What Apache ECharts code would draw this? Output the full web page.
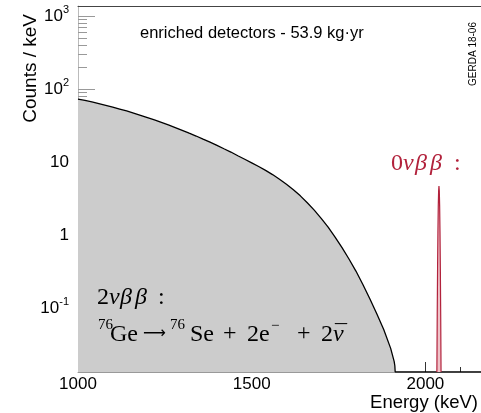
<!DOCTYPE html>
<html>
<head>
<meta charset="utf-8">
<script src="https://cdn.jsdelivr.net/npm/echarts@6/dist/echarts.min.js"></script>
<style>
html,body{margin:0;padding:0;background:#fff;}
#chart{width:481px;height:413px;}
</style>
</head>
<body>
<div id="chart"></div>
<script>
// ---- data ----
const energy2nu = [1000,1020,1040,1060,1080,1100,1120,1140,1160,1180,1200,1220,1240,1260,1280,1300,1320,1340,1360,1380,1400,1420,1440,1460,1480,1500,1520,1540,1560,1580,1600,1620,1640,1660,1680,1700,1720,1740,1760,1780,1800,1820,1840,1860,1880,1900,1910,1912];
const counts2nu = [72.9,69.7,66.5,63.1,59.8,56.5,53.2,50.0,46.8,43.7,40.6,37.7,34.9,32.2,29.6,27.2,24.8,22.7,20.6,18.7,16.9,15.2,13.7,12.2,10.9,9.73,8.67,7.67,6.73,5.82,4.97,4.17,3.44,2.77,2.19,1.69,1.28,0.938,0.671,0.470,0.321,0.210,0.134,0.0836,0.0509,0.0280,0.0186,0.0162];
const energy0nu = [2033,2034,2035,2036,2037,2038,2039,2040,2041,2042,2043,2044,2045];
const counts0nu = [0.0133,0.0794,0.345,1.08,2.45,3.99,4.7,3.99,2.45,1.08,0.345,0.0794,0.0133];
const xTicks = [1000,1500,2000];
const yMajor = [0.1,1,10,100,1000];
const yMinor = [0.02,0.03,0.04,0.05,0.06,0.07,0.08,0.09,0.2,0.3,0.4,0.5,0.6,0.7,0.8,0.9,2,3,4,5,6,7,8,9,20,30,40,50,60,70,80,90,200,300,400,500,600,700,800,900];
const X_MIN = 1000, X_MAX = 2160, Y_MIN = 0.0133, Y_MAX = 1371;

const tail = [[1913, Y_MIN],[X_MAX, Y_MIN]];
const data2nu = energy2nu.map((e,i)=>[e, counts2nu[i]]).concat(tail);
const data0nu = energy0nu.map((e,i)=>[e, counts0nu[i]]);

const chart = echarts.init(document.getElementById('chart'), null, {renderer:'canvas'});
const SANS = 'Liberation Sans';
const BLACK = '#000', RED = '#b2223c';
const F = '24px "Liberation Serif"', FI = 'italic 24px "Liberation Serif"', FS = '15px "Liberation Serif"';

function t(x, y, text, font, fill){
  return {type:'text', x:x, y:y, z:10, silent:true,
    style:{text:text, font:font, fill:fill||BLACK, align:'left', verticalAlign:'middle'}};
}

chart.setOption({
  animation:false,
  backgroundColor:'#fff',
  grid:{left:78, top:6, right:0, bottom:41},
  xAxis:[{
    type:'value', min:X_MIN, max:X_MAX, interval:500, position:'bottom',
    axisLine:{lineStyle:{color:'#999', width:1}},
    axisTick:{inside:true, length:10, lineStyle:{color:'#333'}, customValues: xTicks},
    minorTick:{show:true, splitNumber:5, length:5, lineStyle:{color:'#333'}},
    axisLabel:{customValues: xTicks, fontSize:17, color:'#000', fontFamily:SANS, margin:4,
      formatter:function(v){return String(v);}},
    splitLine:{show:false}
  },{
    type:'value', min:X_MIN, max:X_MAX, position:'top',
    axisLine:{show:true, lineStyle:{color:'#444', width:1}},
    axisTick:{show:false}, axisLabel:{show:false}, splitLine:{show:false}
  }],
  yAxis:[{
    type:'log', logBase:10, min:Y_MIN, max:Y_MAX, position:'left',
    axisLine:{show:true, lineStyle:{color:'#bbb'}},
    axisTick:{show:true, inside:true, length:17, lineStyle:{color:'#999'}, customValues:yMajor},
    axisLabel:{
      customValues:yMajor, margin:9, color:'#000', fontFamily:SANS, fontSize:17, lineHeight:24,
      formatter:function(v){
        const p = Math.round(Math.log10(v));
        if (p===0) return '1';
        if (p===1) return '10';
        return '10{s|' + (p<0 ? '-1' : p) + '}';
      },
      rich:{s:{fontSize:11, fontFamily:SANS, color:'#000', verticalAlign:'top', lineHeight:12}}
    },
    splitLine:{show:false}
  },{
    type:'log', logBase:10, min:Y_MIN, max:Y_MAX, position:'left',
    axisLine:{show:false},
    axisTick:{show:true, inside:true, length:9, lineStyle:{color:'#999'}, customValues:yMinor},
    axisLabel:{show:false}, splitLine:{show:false}
  }],
  series:[{
    type:'line', data:data2nu, showSymbol:false, symbol:'none', clip:true, z:3,
    lineStyle:{color:'#000', width:1.3},
    areaStyle:{color:'#cccccc', opacity:1, origin:'start'}
  },{
    type:'line', data:data0nu, showSymbol:false, symbol:'none', clip:true, z:4,
    lineStyle:{color:RED, width:1.2},
    areaStyle:{color:'#efc2c8', opacity:1, origin:'start'}
  }],
  graphic:[
    t(140, 33, 'enriched detectors - 53.9 kg·yr', '16.5px "Liberation Sans"'),
    {type:'text', x:31, y:14, rotation:Math.PI/2, z:10, style:{text:'Counts / keV', font:'19px "Liberation Sans"', fill:BLACK, align:'right', verticalAlign:'middle'}},
    {type:'text', x:473, y:54, rotation:Math.PI/2, z:10, style:{text:'GERDA 18-06', font:'10px "Liberation Sans"', fill:BLACK, align:'center', verticalAlign:'middle'}},
    {type:'text', x:478, y:403, z:10, style:{text:'Energy (keV)', font:'18.5px "Liberation Sans"', fill:BLACK, align:'right', verticalAlign:'middle'}},
    // 0νββ label
    t(391, 164, '0', F, RED), t(403, 164, 'ν', FI, RED), t(415, 164, 'β', FI, RED), t(430, 164, 'β', FI, RED), t(454, 164, ':', F, RED),
    // 2νββ label
    t(97, 298, '2', F), t(109, 298, 'ν', FI), t(120, 298, 'β', FI), t(135, 298, 'β', FI), t(158, 298, ':', F),
    // decay formula
    t(98, 325, '76', FS), t(110, 335, 'Ge', F),
    t(143, 334, '⟶', '16px "DejaVu Sans"'),
    t(170, 325, '76', FS), t(190, 335, 'Se', F),
    t(223, 334, '+', F), t(247, 335, '2e', F), t(271, 326, '−', FS),
    t(297, 334, '+', F), t(321, 335, '2', F), t(333, 335, 'ν', FI), t(335, 335, '¯', F)
  ]
});
</script>
</body>
</html>
